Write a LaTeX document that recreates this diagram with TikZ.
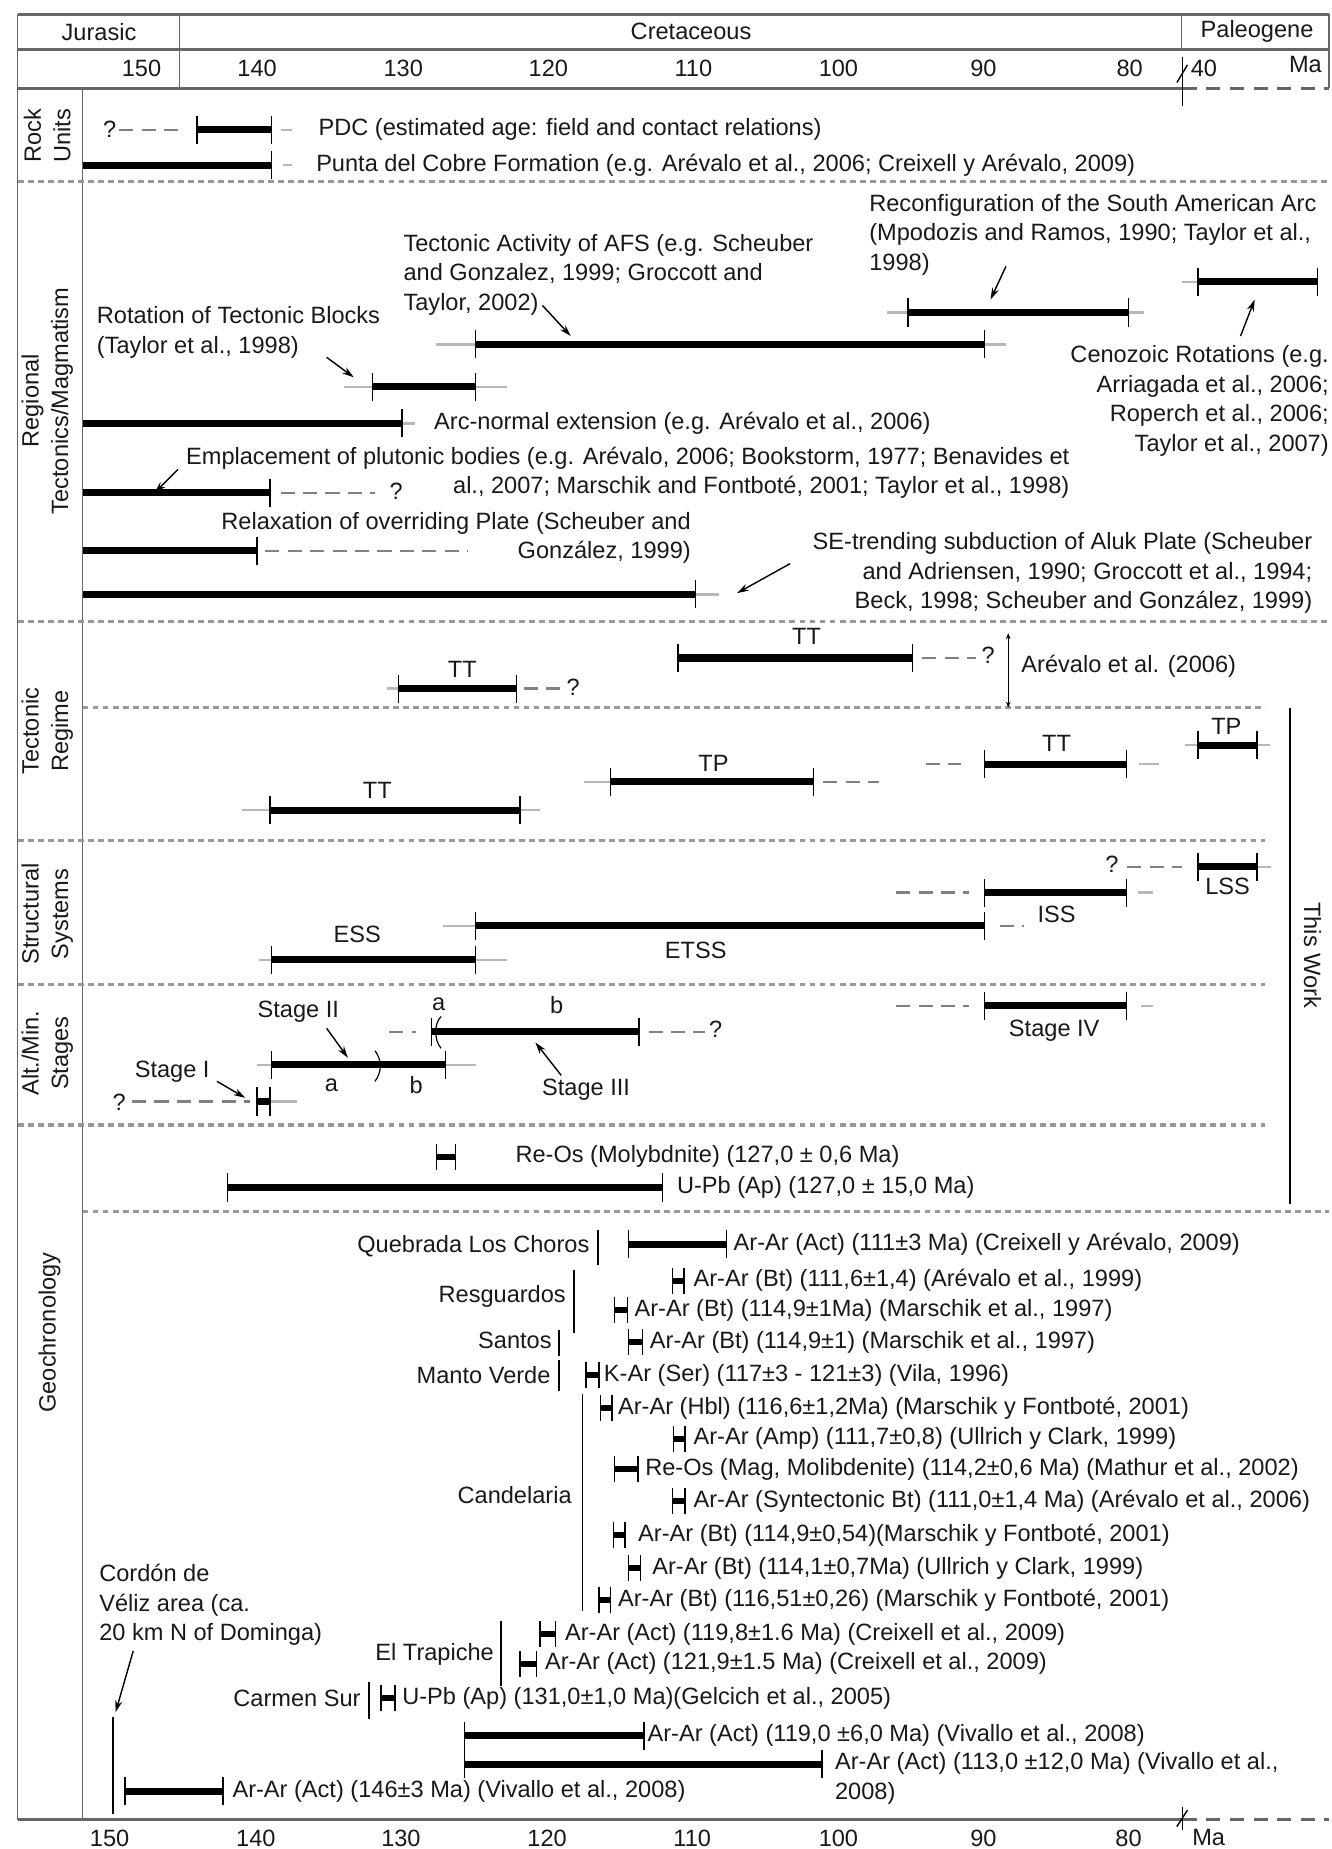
\documentclass[tikz,border=0pt]{standalone}
\usepackage{fontspec}
\setmainfont{Liberation Sans}
\usetikzlibrary{arrows.meta}
\definecolor{sepc}{gray}{0.6}
\definecolor{extc}{gray}{0.72}
\definecolor{dshc}{gray}{0.5}
\definecolor{txtc}{gray}{0.1}
\definecolor{hdrc}{gray}{0.4}
\newcommand{\bbar}[3]{\draw[thickbar] (#2,#1) -- (#3,#1); \draw[tickln] (#2,#1-12) -- (#2,#1+12); \draw[tickln] (#3,#1-12) -- (#3,#1+12);}
\newcommand{\rbar}[3]{\draw[thickbar] (#2,#1) -- (#3,#1); \draw[tickln] (#3,#1-12) -- (#3,#1+12);}
\newcommand{\gmk}[3]{\draw[line width=5pt] (#2,#1) -- (#3,#1); \draw[tickln] (#2,#1-11) -- (#2,#1+11); \draw[tickln] (#3,#1-11) -- (#3,#1+11);}
\newcommand{\extl}[3]{\draw[extln] (#2,#1) -- (#3,#1);}
\newcommand{\dshl}[3]{\draw[dshln] (#2,#1) -- (#3,#1);}
\tikzset{
 thickbar/.style={line width=6pt, black},
 tickln/.style={line width=1.1pt, black},
 extln/.style={line width=2pt, extc},
 dshln/.style={line width=2pt, dshc, dash pattern=on 12pt off 7pt},
 sepln/.style={line width=2.6pt, sepc, dash pattern=on 5pt off 3.5pt},
 hdr/.style={line width=2.6pt, hdrc},
 frm/.style={line width=1.2pt, hdrc},
 lbl/.style={inner sep=0pt, text=txtc},
 lt/.style={lbl, anchor=west},
 rt/.style={lbl, anchor=east},
 arr/.style={-{Stealth[length=10pt,width=6pt]}, line width=1.2pt},
 seclbl/.style={lbl, rotate=90, align=center},
}
\begin{document}
\begin{tikzpicture}[x=1pt,y=-1pt, font=\fontsize{20}{25}\selectfont]
\useasboundingbox (0,0) rectangle (1129,1568);
\fill[white] (0,0) rectangle (1129,1568);
% ---------- header and frame
\draw[hdr] (15,12) -- (1127,12);
\draw[hdr] (15,42) -- (1127,42);
\draw[hdr] (15,75) -- (1003,75);
\draw[hdr, dash pattern=on 12pt off 8pt] (1003,75) -- (1127,75);
\draw[frm] (15,12) -- (15,1543);
\draw[frm] (152,12) -- (152,75);
\draw[frm] (1002,12) -- (1002,42);
\draw[frm] (1127,12) -- (1127,75);
\draw[frm] (70,75) -- (70,1543);
\draw[line width=1.2pt] (1003,48) -- (1003,90);
\draw[line width=1.2pt] (998,70) -- (1007,55);
\draw[hdr] (15,1543) -- (1003,1543);
\draw[hdr, dash pattern=on 12pt off 8pt] (1003,1543) -- (1127,1543);
\draw[line width=1.2pt] (1003,1532) -- (1003,1552);
\draw[line width=1.2pt] (998,1549) -- (1007,1535);
\node[lbl] (hJ) at (84,27) {Jurasic};
\node[lbl] (hC) at (586,27) {Cretaceous};
\node[lbl] (hP) at (1066,27) {Paleogene};
\node[lbl] (t150) at (120,58) {150};
\node[lbl] (t140) at (218,58) {140};
\node[lbl] (t130) at (342,58) {130};
\node[lbl] (t120) at (465,58) {120};
\node[lbl] (t110) at (588,58) {110};
\node[lbl] (t100) at (711,58) {100};
\node[lbl] (t90) at (834,58) {90};
\node[lbl] (t80) at (958,58) {80};
\node[lbl] (t40) at (1021,58) {40};
\node[lbl] (tMa) at (1107,55) {Ma};
\node[lbl] (b150) at (93,1559) {150};
\node[lbl] (b140) at (217,1559) {140};
\node[lbl] (b130) at (340,1559) {130};
\node[lbl] (b120) at (464,1559) {120};
\node[lbl] (b110) at (587,1559) {110};
\node[lbl] (b100) at (711,1559) {100};
\node[lbl] (b90) at (834,1559) {90};
\node[lbl] (b80) at (957,1559) {80};
\node[lbl] (bMa) at (1025,1558) {Ma};
% ---------- separators
\draw[sepln] (15,154) -- (1127,154);
\draw[sepln] (15,527) -- (1127,527);
\draw[sepln] (70,600) -- (1073,600);
\draw[sepln] (15,713) -- (1073,713);
\draw[sepln] (15,835) -- (1073,835);
\draw[sepln] (15,954) -- (1073,954);
\draw[sepln] (70,1027) -- (1127,1027);
% ---------- section labels
\node[seclbl] (sRock) at (40,115) {Rock\\Units};
\node[seclbl] (sReg) at (40,340) {Regional\\Tectonics/Magmatism};
\node[seclbl] (sTec) at (40,620) {Tectonic\\Regime};
\node[seclbl] (sStr) at (40,775) {Structural\\Systems};
\node[seclbl] (sAlt) at (40,893) {Alt./Min.\\Stages};
\node[seclbl] (sGeo) at (42,1130) {Geochronology};
\draw[line width=1.2pt] (1094,600) -- (1094,1021);
\node[lbl, rotate=-90] (sThis) at (1113,810) {This Work};
% ---------- rock units
\node[lbl] (q1) at (93,110) {?};
\dshl{110}{101}{158}
\bbar{110}{167}{230}
\extl{110}{238}{248}
\node[lt] (tPDC) at (270,110) {PDC (estimated age: field and contact relations)};
\rbar{140}{70}{230}
\extl{140}{240}{248}
\node[lt] (tPunta) at (268,140) {Punta del Cobre Formation (e.g. Arévalo et al., 2006; Creixell y Arévalo, 2009)};
% ---------- regional tectonics
\node[lt, align=left] (tReconf) at (737,199) {Reconfiguration of the South American Arc\\(Mpodozis and Ramos, 1990; Taylor et al.,\\1998)};
\coordinate (aR1) at (853,226); \coordinate (aR2) at (840,254);
\draw[arr] (aR1) -- (aR2);
\extl{265}{752}{970}
\bbar{265}{770}{957}
\extl{239}{1002}{1016}
\bbar{239}{1016}{1117}
\coordinate (aC1) at (1052,285); \coordinate (aC2) at (1064,254);
\draw[arr] (aC1) -- (aC2);
\node[rt, align=right] (tCeno) at (1127,340) {Cenozoic Rotations (e.g.\\Arriagada et al., 2006;\\Roperch et al., 2006;\\Taylor et al., 2007)};
\node[lt, align=left] (tAFS) at (342,233) {Tectonic Activity of AFS (e.g. Scheuber\\and Gonzalez, 1999; Groccott and\\Taylor, 2002)};
\coordinate (aA1) at (460,259); \coordinate (aA2) at (484,285);
\draw[arr] (aA1) -- (aA2);
\extl{292}{370}{853}
\bbar{292}{403}{835}
\node[lt, align=left] (tRot) at (82,282) {Rotation of Tectonic Blocks\\(Taylor et al., 1998)};
\coordinate (aT1) at (277,303); \coordinate (aT2) at (300,320);
\draw[arr] (aT1) -- (aT2);
\extl{328}{292}{430}
\bbar{328}{316}{403}
\extl{359}{341}{352}
\rbar{359}{70}{341}
\node[lt] (tArc) at (368,359) {Arc-normal extension (e.g. Arévalo et al., 2006)};
\node[rt, align=right] (tEmpl) at (907,401) {Emplacement of plutonic bodies (e.g. Arévalo, 2006; Bookstorm, 1977; Benavides et\\al., 2007; Marschik and Fontboté, 2001; Taylor et al., 1998)};
\coordinate (aE1) at (151,398); \coordinate (aE2) at (131,418);
\draw[arr] (aE1) -- (aE2);
\rbar{418}{70}{229}
\dshl{418}{238}{318}
\node[lbl] (q2) at (336,417) {?};
\node[rt, align=right] (tRelax) at (586,456) {Relaxation of overriding Plate (Scheuber and\\González, 1999)};
\rbar{467}{70}{218}
\dshl{467}{225}{397}
\node[rt, align=right] (tSE) at (1113,486) {SE-trending subduction of Aluk Plate (Scheuber\\and Adriensen, 1990; Groccott et al., 1994;\\Beck, 1998; Scheuber and González, 1999)};
\coordinate (aS1) at (670,478); \coordinate (aS2) at (625,503);
\draw[arr] (aS1) -- (aS2);
\extl{504}{590}{610}
\rbar{504}{70}{590}
% ---------- tectonic regime (Arevalo)
\node[lbl] (lTT1) at (684,540) {TT};
\bbar{558}{575}{774}
\dshl{558}{782}{828}
\node[lbl] (q3) at (838,556) {?};
\node[lbl] (lTT2) at (392,568) {TT};
\extl{584}{328}{338}
\bbar{584}{338}{438}
\dshl{584}{444}{475}
\node[lbl] (q4) at (486,583) {?};
\coordinate (bA1) at (855,537); \coordinate (bA2) at (855,600);
\draw[{Stealth[length=5pt,width=4pt]}-{Stealth[length=5pt,width=4pt]}, line width=1.1pt] (bA1) -- (bA2);
\node[lt] (tArev) at (866,565) {Arévalo et al. (2006)};
% ---------- tectonic regime (this work)
\node[lbl] (lTP1) at (1040,616) {TP};
\extl{632}{1005}{1077}
\bbar{632}{1016}{1066}
\node[lbl] (lTT3) at (896,630) {TT};
\dshl{648}{785}{815}
\bbar{648}{835}{955}
\extl{648}{966}{983}
\node[lbl] (lTP2) at (605,647) {TP};
\extl{663}{495}{518}
\bbar{663}{518}{690}
\dshl{663}{698}{745}
\node[lbl] (lTT4) at (320,670) {TT};
\extl{687}{205}{458}
\bbar{687}{229}{441}
% ---------- structural systems
\node[lbl] (q5) at (943,733) {?};
\dshl{735}{956}{1002}
\extl{735}{1066}{1078}
\bbar{735}{1016}{1066}
\node[lbl] (lLSS) at (1041,752) {LSS};
\dshl{757}{760}{822}
\bbar{757}{835}{955}
\extl{757}{965}{978}
\node[lbl] (lISS) at (896,775) {ISS};
\extl{785}{376}{403}
\bbar{785}{403}{835}
\dshl{785}{848}{868}
\node[lbl] (lETSS) at (590,806) {ETSS};
\node[lbl] (lESS) at (303,792) {ESS};
\extl{814}{220}{430}
\bbar{814}{230}{403}
% ---------- alteration / mineralization stages
\dshl{853}{760}{822}
\bbar{853}{835}{955}
\extl{853}{968}{978}
\node[lbl] (lS4) at (894,874) {Stage IV};
\node[lbl] (la3) at (372,852) {a};
\node[lbl] (lb3) at (472,852) {b};
\dshl{875}{330}{353}
\bbar{875}{366}{542}
\dshl{875}{550}{598}
\node[lbl] (q6) at (607,873) {?};
\draw[line width=1pt] (374,862) .. controls (368,868) and (368,882) .. (374,889);
\node[lbl] (lS3) at (497,924) {Stage III};
\coordinate (a31) at (476,912); \coordinate (a32) at (454,884);
\draw[arr] (a31) -- (a32);
\node[lbl] (lS2) at (253,858) {Stage II};
\coordinate (a21) at (277,872); \coordinate (a22) at (295,897);
\draw[arr] (a21) -- (a22);
\extl{903}{218}{404}
\bbar{903}{230}{378}
\draw[line width=1pt] (318,891) .. controls (324,899) and (324,909) .. (318,917);
\node[lbl] (la2) at (281,920) {a};
\node[lbl] (lb2) at (353,920) {b};
\node[lbl] (lS1) at (146,909) {Stage I};
\coordinate (a11) at (184,917); \coordinate (a12) at (208,931);
\draw[arr] (a11) -- (a12);
\node[lbl] (q7) at (101,935) {?};
\dshl{934}{112}{212}
\extl{934}{229}{252}
\bbar{934}{218}{229}
% ---------- geochronology (this work)
\gmk{981}{370}{386}
\node[lt] (gReOs) at (437,981) {Re-Os (Molybdnite) (127,0 ± 0,6 Ma)};
\bbar{1007}{193}{562}
\node[lt] (gUPb) at (574,1007) {U-Pb (Ap) (127,0 ± 15,0 Ma)};
% ---------- geochronology (published)
\node[rt] (dQLC) at (500,1057) {Quebrada Los Choros};
\draw[line width=1.8pt] (507,1043) -- (507,1073);
\bbar{1055}{533}{616}
\node[lt] (g1) at (622,1055) {Ar-Ar (Act) (111±3 Ma) (Creixell y Arévalo, 2009)};
\node[rt] (dRes) at (480,1099) {Resguardos};
\draw[line width=1.8pt] (487,1077) -- (487,1130);
\gmk{1086}{570}{580}
\node[lt] (g2) at (588,1086) {Ar-Ar (Bt) (111,6±1,4) (Arévalo et al., 1999)};
\gmk{1111}{521}{532}
\node[lt] (g3) at (538,1111) {Ar-Ar (Bt) (114,9±1Ma) (Marschik et al., 1997)};
\node[rt] (dSan) at (468,1137) {Santos};
\draw[line width=1.8pt] (474,1128) -- (474,1150);
\gmk{1138}{533}{545}
\node[lt] (g4) at (551,1138) {Ar-Ar (Bt) (114,9±1) (Marschik et al., 1997)};
\node[rt] (dMV) at (467,1166) {Manto Verde};
\draw[line width=1.8pt] (474,1153) -- (474,1180);
\gmk{1166}{497}{508}
\node[lt] (g5) at (512,1166) {K-Ar (Ser) (117±3 - 121±3) (Vila, 1996)};
\node[rt] (dCand) at (485,1268) {Candelaria};
\draw[line width=1.2pt] (494,1182) -- (494,1366);
\gmk{1194}{509}{519}
\node[lt] (g6) at (524,1194) {Ar-Ar (Hbl) (116,6±1,2Ma) (Marschik y Fontboté, 2001)};
\gmk{1220}{571}{581}
\node[lt] (g7) at (588,1220) {Ar-Ar (Amp) (111,7±0,8) (Ullrich y Clark, 1999)};
\gmk{1246}{521}{541}
\node[lt] (g8) at (547,1246) {Re-Os (Mag, Molibdenite) (114,2±0,6 Ma) (Mathur et al., 2002)};
\gmk{1273}{570}{581}
\node[lt] (g9) at (588,1273) {Ar-Ar (Syntectonic Bt) (111,0±1,4 Ma) (Arévalo et al., 2006)};
\gmk{1302}{520}{530}
\node[lt] (g10) at (541,1302) {Ar-Ar (Bt) (114,9±0,54)(Marschik y Fontboté, 2001)};
\gmk{1330}{533}{543}
\node[lt] (g11) at (553,1330) {Ar-Ar (Bt) (114,1±0,7Ma) (Ullrich y Clark, 1999)};
\gmk{1357}{508}{518}
\node[lt] (g12) at (524,1357) {Ar-Ar (Bt) (116,51±0,26) (Marschik y Fontboté, 2001)};
\node[lt, align=left] (dCord) at (84,1361) {Cordón de\\Véliz area (ca.\\20 km N of Dominga)};
\coordinate (aV1) at (113,1400); \coordinate (aV2) at (98,1452);
\draw[arr] (aV1) -- (aV2);
\draw[line width=1.2pt] (96,1456) -- (96,1538);
\node[rt] (dElT) at (419,1403) {El Trapiche};
\draw[line width=1.8pt] (425,1375) -- (425,1430);
\gmk{1386}{458}{471}
\node[lt] (g13) at (479,1386) {Ar-Ar (Act) (119,8±1.6 Ma) (Creixell et al., 2009)};
\gmk{1411}{441}{455}
\node[lt] (g14) at (462,1411) {Ar-Ar (Act) (121,9±1.5 Ma) (Creixell et al., 2009)};
\node[rt] (dCS) at (306,1440) {Carmen Sur};
\draw[line width=1.8pt] (313,1426) -- (313,1458);
\gmk{1440}{323}{335}
\node[lt] (g15) at (341,1440) {U-Pb (Ap) (131,0±1,0 Ma)(Gelcich et al., 2005)};
\bbar{1472}{394}{546}
\node[lt] (g16) at (549,1472) {Ar-Ar (Act) (119,0 ±6,0 Ma) (Vivallo et al., 2008)};
\bbar{1496}{394}{697}
\node[lt, align=left] (g17) at (708,1508) {Ar-Ar (Act) (113,0 ±12,0 Ma) (Vivallo et al.,\\2008)};
\bbar{1519}{106}{189}
\node[lt] (g18) at (197,1519) {Ar-Ar (Act) (146±3 Ma) (Vivallo et al., 2008)};
\end{tikzpicture}
\end{document}
